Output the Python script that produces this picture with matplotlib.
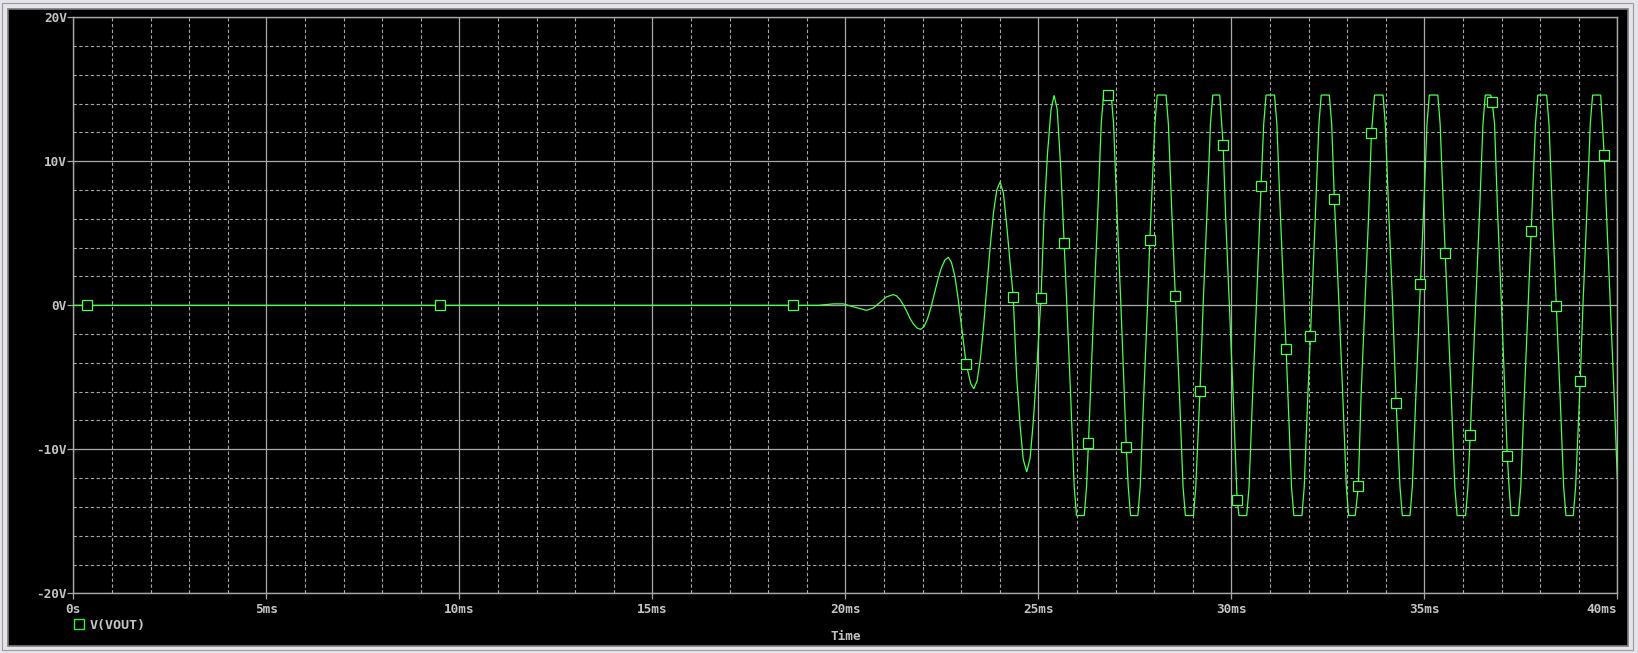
import matplotlib

matplotlib.use("Agg")
import matplotlib.pyplot as plt  # type: ignore
from matplotlib.patches import Rectangle
from matplotlib.lines import Line2D
from matplotlib.ticker import MultipleLocator

W_PX, H_PX, DPI = 1638, 653, 100

TRACE_NAME = "V(VOUT)"
X_LABEL = "Time"

x_ticks = [0, 5, 10, 15, 20, 25, 30, 35, 40]
x_tick_labels = ["0s", "5ms", "10ms", "15ms", "20ms", "25ms", "30ms", "35ms", "40ms"]
y_ticks = [-20, -10, 0, 10, 20]
y_tick_labels = ["-20V", "-10V", "0V", "10V", "20V"]

# simulated V(VOUT) (time in ms, volts)
time_ms = [
    0.0, 0.35, 9.49, 18.64, 19.3, 19.7, 19.95, 20.2, 20.55, 20.72, 20.9, 21.07,
    21.24, 21.33, 21.42, 21.51, 21.60, 21.68, 21.77, 21.86,
    21.95, 22.04, 22.13, 22.22, 22.31, 22.40, 22.49, 22.58,
    22.67, 22.75, 22.84, 22.92, 23.0, 23.08, 23.13, 23.25,
    23.33, 23.415, 23.50, 23.585, 23.67, 23.755, 23.84, 23.925,
    24.01, 24.096, 24.18, 24.27, 24.35, 24.44, 24.53, 24.61,
    24.70, 24.79, 24.88, 24.97, 25.07, 25.15, 25.24, 25.33,
    25.41, 25.49, 25.58, 25.67, 25.74, 25.84, 25.93, 25.99,
    26.19, 26.25, 26.30, 26.44, 26.54, 26.63, 26.69,
    26.81, 26.89, 26.95, 27.04, 27.14, 27.28, 27.33, 27.39,
    27.58, 27.64, 27.73, 27.83, 27.89, 28.02, 28.08,
    28.31, 28.37, 28.46, 28.55, 28.66, 28.75, 28.81,
    29.02, 29.08, 29.19, 29.27, 29.37, 29.46, 29.52,
    29.70, 29.79, 29.85, 29.95, 30.05, 30.15, 30.20,
    30.40, 30.46, 30.55, 30.65, 30.77, 30.84, 30.90,
    31.12, 31.18, 31.27, 31.37, 31.42, 31.56, 31.62,
    31.83, 31.89, 31.98, 32.05, 32.18, 32.27, 32.33,
    32.54, 32.60, 32.67, 32.79, 32.89, 32.98, 33.04,
    33.21, 33.29, 33.36, 33.46, 33.56, 33.63, 33.71,
    33.93, 33.99, 34.08, 34.18, 34.27, 34.37, 34.43,
    34.63, 34.69, 34.78, 34.90, 34.98, 35.07, 35.13,
    35.35, 35.41, 35.54, 35.60, 35.70, 35.79, 35.85,
    36.07, 36.13, 36.19, 36.33, 36.43, 36.52, 36.58,
    36.72, 36.76, 36.82, 36.90, 37.00, 37.15, 37.20, 37.25,
    37.44, 37.50, 37.59, 37.69, 37.77, 37.88, 37.94,
    38.17, 38.23, 38.32, 38.42, 38.52, 38.61, 38.67,
    38.86, 38.92, 39.04, 39.11, 39.21, 39.30, 39.36,
    39.57, 39.66, 39.72, 39.82, 39.92, 40.0,
]
vout_v = [
    0.0, 0.0, 0.0, 0.0, 0.0, 0.1, 0.1, -0.1, -0.35, -0.19, 0.2, 0.59,
    0.74, 0.65, 0.39, 0.0, -0.465, -0.93, -1.32, -1.58,
    -1.67, -1.48, -0.94, -0.13, 0.83, 1.79, 2.60, 3.14,
    3.33, 2.98, 1.99, 0.52, -1.23, -2.98, -4.05, -5.44,
    -5.79, -5.24, -3.69, -1.36, 1.385, 4.13, 6.46, 8.01,
    8.56, 7.79, 5.61, 2.9, 0.6, -5.0, -8.4, -10.7,
    -11.57, -10.58, -7.74, -4.0, 0.53, 6.3, 10.6, 13.6,
    14.58, 13.6, 9.6, 4.31, 0.0, -6.4, -12.6, -14.6,
    -14.6, -12.6, -9.53, 0.0, 6.4, 12.6, 14.6,
    14.6, 14.6, 12.6, 6.4, 0.0, -9.81, -12.6, -14.6,
    -14.6, -12.6, -6.4, 0.0, 4.56, 12.6, 14.6,
    14.6, 12.6, 6.4, 0.67, -6.4, -12.6, -14.6,
    -14.6, -12.6, -5.93, 0.0, 6.4, 12.6, 14.6,
    14.6, 11.11, 6.4, 0.0, -6.4, -13.49, -14.6,
    -14.6, -12.6, -6.4, 0.0, 8.26, 12.6, 14.6,
    14.6, 12.6, 6.4, 0.0, -3.01, -12.6, -14.6,
    -14.6, -12.6, -6.4, -2.15, 6.4, 12.6, 14.6,
    14.6, 12.6, 7.41, 0.0, -6.4, -12.6, -14.6,
    -14.6, -12.57, -6.4, 0.0, 6.4, 11.94, 14.6,
    14.6, 12.6, 6.4, 0.0, -6.76, -12.6, -14.6,
    -14.6, -12.6, -6.4, 1.5, 6.4, 12.6, 14.6,
    14.6, 12.6, 3.66, 0.0, -6.4, -12.6, -14.6,
    -14.6, -12.6, -8.98, 0.0, 6.4, 12.6, 14.6,
    14.6, 14.14, 12.6, 6.4, 0.0, -10.44, -12.8, -14.6,
    -14.6, -12.6, -6.4, 0.0, 5.19, 12.6, 14.6,
    14.6, 12.6, 6.4, -0.02, -6.4, -12.6, -14.6,
    -14.6, -12.6, -5.23, 0.0, 6.4, 12.6, 14.6,
    14.6, 10.47, 6.4, 0.0, -6.4, -12.0,
]

# square symbols the probe drops along the trace
marker_ms = [
    0.35, 9.49, 18.64, 23.13, 24.35, 25.07, 25.67, 26.30, 26.81, 27.28, 27.89,
    28.55, 29.19, 29.79, 30.15, 30.77, 31.42, 32.05, 32.67, 33.29, 33.63, 34.27,
    34.90, 35.54, 36.19, 36.76, 37.15, 37.77, 38.42, 39.04, 39.66,
]
marker_v = [
    0.0, 0.0, 0.0, -4.05, 0.6, 0.53, 4.31, -9.53, 14.6, -9.81, 4.56,
    0.67, -5.93, 11.11, -13.49, 8.26, -3.01, -2.15, 7.41, -12.57, 11.94, -6.76,
    1.5, 3.66, -8.98, 14.14, -10.44, 5.19, -0.02, -5.23, 10.47,
]

TRACE = "#4cff4c"
GRID = "#a8a8a8"
TEXT = "#c4c4c4"
MONO = "DejaVu Sans Mono"
FS = 9.2


def px_box(left, top, right, bottom):
    # pixel box (origin top-left) -> figure fraction rect
    return [left / W_PX, 1 - bottom / H_PX, (right - left) / W_PX, (bottom - top) / H_PX]


fig = plt.figure(figsize=(W_PX / DPI, H_PX / DPI), dpi=DPI, facecolor="#e4e4ea")

# window chrome: black probe panel with a bevel edge
fig.patches.append(
    Rectangle((2 / W_PX, 3 / H_PX), 1631 / W_PX, 647 / H_PX, transform=fig.transFigure,
              facecolor="none", edgecolor="#9a9a9a", lw=0.8, zorder=-2)
)
l, b, w, h = px_box(8, 9, 1628, 646)
fig.patches.append(
    Rectangle((l, b), w, h, transform=fig.transFigure, facecolor="black",
              edgecolor="#7c7c7c", lw=1.2, zorder=-1)
)

ax = fig.add_axes(px_box(73.3, 17.3, 1617.3, 593.3))
ax.set_zorder(2)
ax.set_facecolor("black")
ax.set_xlim(0, 40)
ax.set_ylim(-20, 20)

ax.xaxis.set_minor_locator(MultipleLocator(1))
ax.yaxis.set_minor_locator(MultipleLocator(2))
ax.set_xticks(x_ticks, x_tick_labels)
ax.set_yticks(y_ticks, y_tick_labels)

ax.grid(which="major", color=GRID, lw=0.9, ls="-")
ax.grid(which="minor", color=GRID, lw=0.8, ls=(0, (3, 2.2)))
ax.set_axisbelow(True)
for sp in ax.spines.values():
    sp.set_color(GRID)
    sp.set_linewidth(1.0)

ax.tick_params(which="major", direction="out", length=4.3, width=0.9, color=GRID,
               labelcolor=TEXT, labelsize=FS)
ax.tick_params(axis="x", which="major", pad=2.5)
ax.tick_params(axis="y", which="major", pad=0.5)
ax.tick_params(which="minor", length=0)
for lab in ax.get_xticklabels() + ax.get_yticklabels():
    lab.set_family(MONO)
    lab.set_weight("bold")
ax.get_xticklabels()[-1].set_ha("right")

ax.plot(time_ms, vout_v, color=TRACE, lw=0.9, zorder=3, solid_joinstyle="miter")
ax.plot(marker_ms, marker_v, ls="none", marker="s", ms=7.0, mfc="black",
        mec=TRACE, mew=0.9, zorder=4)

ax.set_xlabel(X_LABEL, color=TEXT, fontsize=FS, family=MONO, weight="bold", labelpad=10)

handle = Line2D([], [], ls="none", marker="s", ms=6.6, mfc="black", mec="#33ee33", mew=1.0)
leg = fig.legend([handle], [TRACE_NAME], loc="center left", frameon=False,
                 bbox_to_anchor=(72 / W_PX, 1 - 625 / H_PX), handlelength=1.0,
                 handletextpad=0.35, borderaxespad=0, borderpad=0,
                 prop={"family": MONO, "size": FS + 0.4, "weight": "bold"})
leg.set_zorder(5)
for t in leg.get_texts():
    t.set_color(TEXT)

fig.savefig("out.png", dpi=DPI, facecolor=fig.get_facecolor())
